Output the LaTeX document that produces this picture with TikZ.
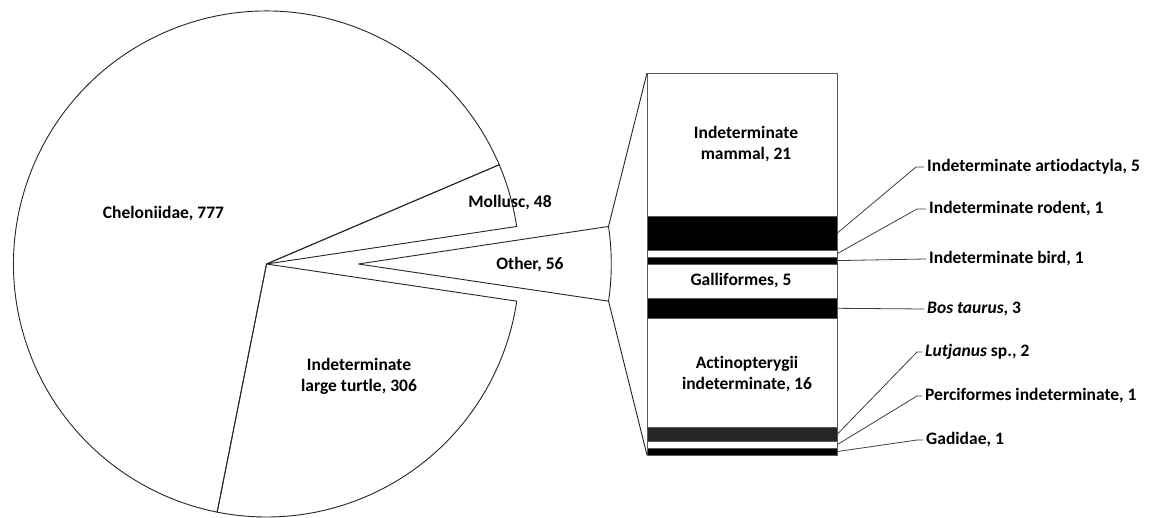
\documentclass[tikz,border=0pt]{standalone}
\usepackage{fontspec}
\setmainfont{Carlito}[Ligatures={NoCommon}]
\begin{document}
\begin{tikzpicture}[x=1pt,y=1pt,
  lbl/.style={font=\bfseries\fontsize{17.5}{21.5}\selectfont, inner sep=0pt, text=black, align=center},
  rlbl/.style={font=\bfseries\fontsize{17.5}{21.5}\selectfont, inner xsep=3pt, inner ysep=0pt, text=black, anchor=west},
  edge/.style={draw=black!85, line width=0.9pt, line join=round},
  lead/.style={draw=black!75, line width=0.8pt},
  seg/.style={draw=black!65, line width=0.8pt}]
\useasboundingbox (0,0) rectangle (1156,-518);
\fill[white] (0,0) rectangle (1156,-518);
\def\R{253}
% ---------- pie ----------
\coordinate (C) at (266.5,-264);
\coordinate (O) at (358.3,-264);
\draw[edge] (C) -- ++(23.1:\R) arc[start angle=23.1, end angle=258.75, radius=\R] -- cycle;
\draw[edge] (C) -- ++(258.75:\R) arc[start angle=258.75, end angle=351.55, radius=\R] -- cycle;
\draw[edge] (C) -- ++(8.53:\R) arc[start angle=8.53, end angle=23.1, radius=\R] -- cycle;
\draw[edge] (O) -- ++(-8.45:\R) coordinate (O2) arc[start angle=-8.45, end angle=8.53, radius=\R] coordinate (O1) -- cycle;
\node[lbl] (chel) at (163.5,-214) {Cheloniidae, 777};
\node[lbl] (turt) at (359,-376.5) {Indeterminate\\large turtle, 306};
\node[lbl] (moll) at (510,-203) {Mollusc, 48};
\node[lbl] (oth) at (530,-265) {Other, 56};
% ---------- bar ----------
\fill[white] (647,-73) rectangle (837,-216.25);
\fill[black] (647,-216.25) rectangle (837,-250.36);
\fill[white] (647,-250.36) rectangle (837,-257.18);
\fill[black] (647,-257.18) rectangle (837,-264.0);
\fill[white] (647,-264.0) rectangle (837,-298.11);
\fill[black] (647,-298.11) rectangle (837,-318.57);
\fill[white] (647,-318.57) rectangle (837,-427.71);
\fill[black!85] (647,-427.71) rectangle (837,-441.36);
\fill[white] (647,-441.36) rectangle (837,-448.18);
\fill[black] (647,-448.18) rectangle (837,-455);
\foreach \yy in {216.25,250.36,257.18,264.0,298.11,318.57,427.71,441.36,448.18}
  \draw[seg] (647,-\yy) -- (837,-\yy);
\draw[seg] (647,-73) coordinate (bartl) rectangle (837,-455);
\coordinate (barbl) at (647,-455);
\draw[edge] (O1) -- (bartl);
\draw[edge] (O2) -- (barbl);
\node[lbl] (mam) at (746,-144.2) {Indeterminate\\mammal, 21};
\node[lbl] (gal) at (741,-280.6) {Galliformes, 5};
\node[lbl] (act) at (747,-373.8) {Actinopterygii\\indeterminate, 16};
% ---------- leader lines ----------
\coordinate (pArt) at (837,-233.3);
\coordinate (pRod) at (837,-253.8);
\coordinate (pBird) at (837,-260.6);
\coordinate (pBos) at (837,-308.3);
\coordinate (pLut) at (837,-434.5);
\coordinate (pPerc) at (837,-444.8);
\coordinate (pGad) at (837,-451.6);
\node[rlbl] (art) at (924,-167) {Indeterminate artiodactyla, 5};
\node[rlbl] (rod) at (926,-209) {Indeterminate rodent, 1};
\node[rlbl] (bird) at (926,-259) {Indeterminate bird, 1};
\node[rlbl] (bos) at (924,-309) {\textit{Bos taurus}, 3};
\node[rlbl] (lut) at (922,-352) {\textit{Lutjanus} sp., 2};
\node[rlbl] (perc) at (922,-396) {Perciformes indeterminate, 1};
\node[rlbl] (gad) at (923,-440) {Gadidae, 1};
\coordinate (sArt) at (916,-167);
\coordinate (sRod) at (917,-209);
\coordinate (sLut) at (917,-352);
\coordinate (sPerc) at (917,-396);
\coordinate (sGad) at (917,-440);
\draw[lead] (pArt) -- (sArt) -- (art.west);
\draw[lead] (pRod) -- (sRod) -- (rod.west);
\draw[lead] (pBird) -- (bird.west);
\draw[lead] (pBos) -- (bos.west);
\draw[lead] (pLut) -- (sLut) -- (lut.west);
\draw[lead] (pPerc) -- (sPerc) -- (perc.west);
\draw[lead] (pGad) -- (sGad) -- (gad.west);
\end{tikzpicture}
\end{document}
